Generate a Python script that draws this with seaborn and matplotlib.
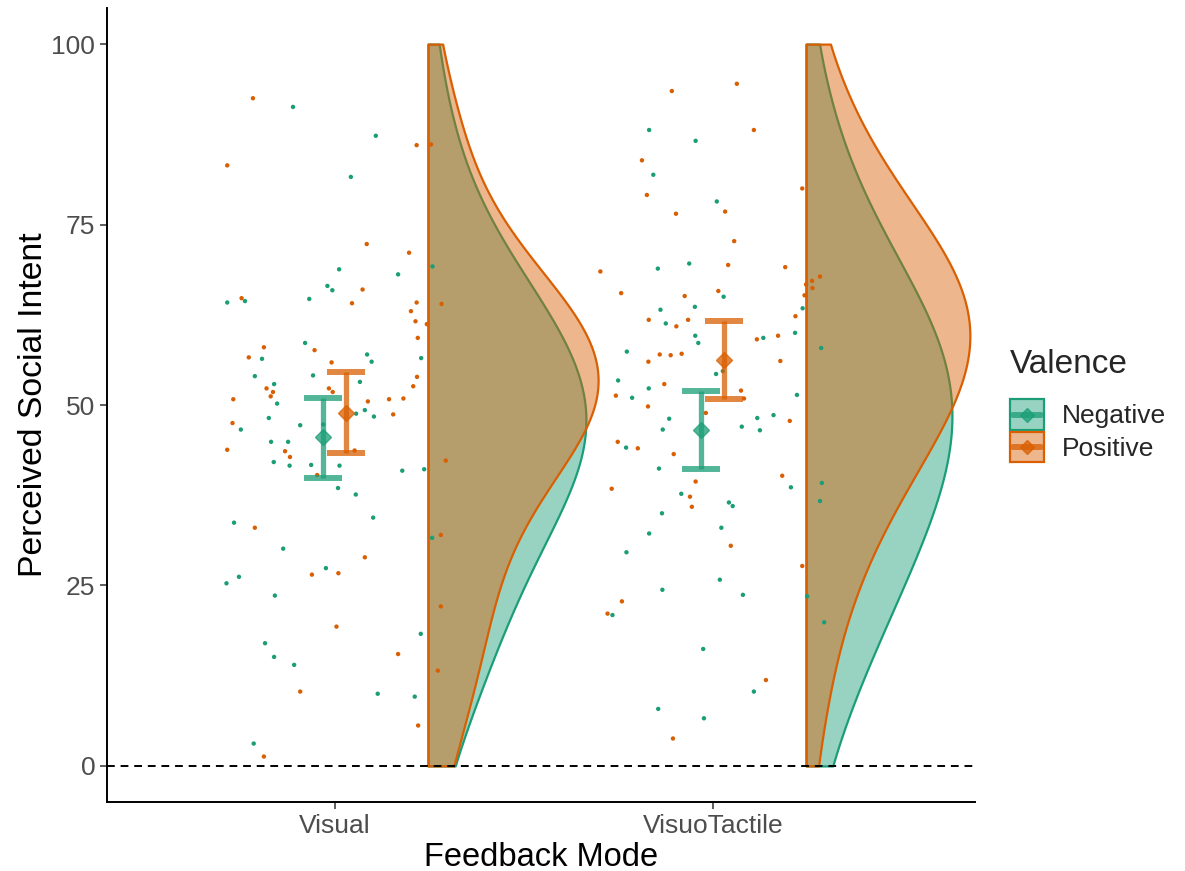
import numpy as np
import pandas as pd
import matplotlib
matplotlib.use("Agg")
import matplotlib.pyplot as plt
import seaborn as sns
from matplotlib.lines import Line2D
from matplotlib.patches import Rectangle
from matplotlib.legend_handler import HandlerBase
from matplotlib.colors import to_rgba

# ---------------- data ----------------
modes = ["Visual", "VisuoTactile"]
valences = ["Negative", "Positive"]
palette = {"Negative": "#1B9E77", "Positive": "#D95F02"}

visual_neg_y = [91.3, 87.3, 81.6, 69.2, 68.8, 68.1, 66.5, 65.9, 64.2, 64.4, 64.7, 58.6, 56.4, 57.0,
                56.0, 56.5, 54.0, 54.1, 53.2, 52.9, 50.2, 49.3, 48.8, 48.4, 48.2, 47.2, 46.6, 47.3,
                44.9, 44.9, 42.1, 41.6, 41.7, 41.6, 40.9, 41.1, 38.5, 37.6, 34.4, 33.7, 31.6, 30.1,
                27.4, 25.3, 26.2, 23.6, 18.3, 17.0, 15.1, 14.0, 10.0, 9.6, 3.1]
visual_neg_jit = [-0.111, 0.108, 0.042, 0.258, 0.011, 0.167, -0.020, -0.007, -0.285, -0.238, -0.068,
                  -0.079, -0.193, 0.085, 0.097, 0.228, -0.212, -0.058, 0.066, -0.161, -0.153, 0.079,
                  0.056, 0.103, -0.175, -0.092, -0.249, -0.031, -0.169, -0.124, -0.162, -0.120,
                  -0.063, 0.012, 0.178, 0.236, 0.008, 0.055, 0.101, -0.267, 0.257, -0.137, -0.024,
                  -0.287, -0.254, -0.159, 0.227, -0.185, -0.161, -0.108, 0.113, 0.211, -0.215]

visual_pos_y = [92.5, 83.2, 86.0, 86.1, 72.3, 71.1, 66.0, 64.8, 64.1, 64.2, 64.0, 63.0, 61.6, 61.2,
                59.3, 57.6, 58.0, 56.6, 55.9, 53.9, 52.3, 52.3, 51.8, 51.8, 52.6, 51.2, 50.8, 50.5,
                50.8, 50.9, 48.7, 47.5, 43.8, 43.6, 42.8, 43.7, 40.3, 42.3, 33.0, 32.0, 28.9, 26.5,
                26.7, 22.1, 19.3, 15.5, 13.2, 10.3, 5.6, 1.3]
visual_pos_jit = [-0.217, -0.285, 0.216, 0.254, 0.084, 0.196, 0.073, -0.247, 0.045, 0.216, 0.282,
                  0.201, 0.213, 0.243, 0.219, -0.054, -0.188, -0.228, -0.009, 0.217, -0.181, -0.016,
                  -0.164, -0.006, 0.207, -0.170, -0.269, 0.087, 0.143, 0.181, 0.154, -0.271, -0.285,
                  -0.132, -0.119, 0.052, -0.047, 0.293, -0.212, 0.280, 0.079, -0.061, 0.009, 0.280,
                  0.004, 0.167, 0.272, -0.092, 0.220, -0.188]

tactile_neg_y = [88.1, 86.6, 81.9, 78.2, 68.9, 69.6, 65.0, 63.6, 63.2, 63.4, 61.3, 59.6, 58.6, 59.3,
                 60.0, 57.9, 57.4, 54.3, 54.7, 53.4, 52.3, 51.0, 51.4, 48.1, 48.2, 48.6, 46.6, 47.0,
                 46.5, 44.1, 41.2, 38.6, 39.2, 36.7, 37.7, 36.5, 36.0, 35.0, 33.0, 32.2, 29.6, 24.4,
                 25.8, 23.7, 23.5, 20.9, 19.9, 16.2, 10.3, 7.9, 6.6]
tactile_neg_jit = [-0.169, -0.046, -0.158, 0.010, -0.146, -0.063, 0.028, -0.048, -0.139, 0.237,
                   -0.125, -0.047, -0.039, 0.133, 0.217, 0.286, -0.228, 0.008, 0.026, -0.251, -0.170,
                   -0.214, 0.222, -0.116, 0.117, 0.160, -0.133, 0.076, 0.124, -0.230, -0.143, 0.206,
                   0.288, 0.283, -0.084, 0.042, 0.052, -0.135, 0.022, -0.169, -0.229, -0.134, 0.018,
                   0.079, 0.249, -0.266, 0.294, -0.026, 0.108, -0.145, -0.024]

tactile_pos_y = [93.5, 94.5, 88.1, 83.9, 79.1, 80.0, 76.8, 76.5, 72.7, 68.5, 69.4, 69.1, 67.8, 67.2,
                 66.7, 66.2, 65.5, 65.1, 65.8, 65.2, 62.3, 61.8, 61.8, 60.9, 59.1, 59.6, 56.0, 57.0,
                 56.9, 57.1, 56.1, 52.9, 51.3, 49.8, 52.0, 50.9, 48.9, 47.8, 44.9, 44.0, 43.2, 39.4,
                 40.2, 38.4, 37.3, 35.9, 30.5, 27.7, 22.8, 21.1, 11.9, 3.8]
tactile_pos_jit = [-0.109, 0.063, 0.108, -0.188, -0.175, 0.236, 0.032, -0.098, 0.056, -0.298, 0.040,
                   0.191, 0.283, 0.262, 0.246, 0.263, -0.243, -0.075, 0.014, 0.242, 0.218, -0.170,
                   -0.066, -0.097, 0.116, 0.172, -0.171, -0.141, -0.112, -0.083, 0.178, -0.129,
                   -0.257, -0.172, 0.074, 0.082, -0.019, 0.203, -0.252, -0.199, -0.104, -0.046,
                   0.183, -0.268, -0.061, -0.056, 0.047, 0.236, -0.241, -0.279, 0.140, -0.106]

# summary (mean and 95% CI bounds) per mode x valence
sum_mode = ["Visual", "Visual", "VisuoTactile", "VisuoTactile"]
sum_val = ["Negative", "Positive", "Negative", "Positive"]
sum_mean = [45.5, 48.9, 46.5, 56.3]
sum_low = [39.9, 43.3, 41.1, 50.9]
sum_high = [51.0, 54.6, 51.9, 61.6]

yticks = [0, 25, 50, 75, 100]

# ---------------- build frames ----------------
groups = [("Visual", "Negative", visual_neg_y, visual_neg_jit),
          ("Visual", "Positive", visual_pos_y, visual_pos_jit),
          ("VisuoTactile", "Negative", tactile_neg_y, tactile_neg_jit),
          ("VisuoTactile", "Positive", tactile_pos_y, tactile_pos_jit)]
rows = []
for m, v, ys, js in groups:
    for y, j in zip(ys, js):
        rows.append({"mode": m, "valence": v, "score": y, "xpos": modes.index(m) + j})
df = pd.DataFrame(rows)

summ = pd.DataFrame({"mode": sum_mode, "valence": sum_val, "mean": sum_mean,
                     "low": sum_low, "high": sum_high})

# ---------------- style ----------------
sns.set_theme(style="ticks")
plt.rcParams["font.family"] = ["Liberation Sans", "DejaVu Sans"]

fig = plt.figure(figsize=(11.85, 8.71), dpi=100)
ax = fig.add_axes([0.0903, 0.0792, 0.7325, 0.9116])

# ---------------- half violins ----------------
grid = np.linspace(0, 100, 400)


def kde(vals, g, bw):
    v = np.asarray(vals)[:, None]
    return np.exp(-0.5 * ((g[None, :] - v) / bw) ** 2).sum(0) / (len(vals) * bw * np.sqrt(2 * np.pi))


def nrd0(vals):
    v = np.asarray(vals)
    iqr = np.subtract(*np.percentile(v, [75, 25]))
    s = min(np.std(v, ddof=1), iqr / 1.34)
    return 0.9 * s * len(v) ** (-0.2)


adjust = 1.9
dens = {}
for m, v, ys, js in groups:
    dens[(m, v)] = kde(ys, grid, nrd0(ys) * adjust)
gmax = max(d.max() for d in dens.values())

for m, v, ys, js in groups:
    i = modes.index(m)
    x0 = i + 0.246
    w = dens[(m, v)] / gmax * 0.45
    c = palette[v]
    ax.fill_betweenx(grid, x0, x0 + w, facecolor=to_rgba(c, 0.45), edgecolor=c,
                     linewidth=1.6, zorder=1)

# reference line
ax.axhline(0, color="black", linestyle=(0, (4, 3)), linewidth=1.4, zorder=2)

# ---------------- jittered points ----------------
sns.scatterplot(data=df, x="xpos", y="score", hue="valence", palette=palette,
                s=10, linewidth=0, legend=False, ax=ax, zorder=3)

# ---------------- mean + CI ----------------
dodge = {"Negative": -0.032, "Positive": 0.028}
for _, r in summ.iterrows():
    c = palette[r["valence"]]
    x = modes.index(r["mode"]) + dodge[r["valence"]]
    ax.errorbar([x], [r["mean"]], yerr=[[r["mean"] - r["low"]], [r["high"] - r["mean"]]],
                fmt="D", color=c, ecolor=c, alpha=0.75, elinewidth=3.8, capsize=13.5,
                capthick=4.3, markersize=8, zorder=4)

# ---------------- axes ----------------
ax.set_xlim(-0.603, 1.693)
ax.set_ylim(-5, 105)
ax.set_xticks(range(len(modes)))
ax.set_xticklabels(modes)
ax.set_yticks(yticks)
ax.set_yticklabels([str(t) for t in yticks])
ax.tick_params(axis="both", labelsize=19, colors="#333333", labelcolor="#4D4D4D",
               length=5, width=1.1)
ax.set_xlabel("Feedback Mode", fontsize=23.5, color="black", labelpad=3)
ax.set_ylabel("Perceived Social Intent", fontsize=24.3, color="black", labelpad=1.5)
for s in ["top", "right"]:
    ax.spines[s].set_visible(False)
for s in ["left", "bottom"]:
    ax.spines[s].set_color("black")
    ax.spines[s].set_linewidth(1.4)
ax.grid(False)


# ---------------- legend ----------------
class KeyHandler(HandlerBase):
    def create_artists(self, legend, orig_handle, xdescent, ydescent, width, height,
                       fontsize, trans):
        c = orig_handle.get_color()
        x0, y0 = -xdescent, -ydescent
        rect = Rectangle((x0, y0), width, height, facecolor=to_rgba(c, 0.45),
                         edgecolor=c, linewidth=1.6, transform=trans)
        cy = y0 + height / 2
        line = Line2D([x0 + 0.1 * width, x0 + 0.9 * width], [cy, cy], color=c, alpha=0.75,
                      linewidth=4.3, transform=trans)
        mk = Line2D([x0 + width / 2], [cy], marker="D", markersize=7.5, color=c, alpha=0.75,
                    linewidth=0, transform=trans)
        return [rect, line, mk]


handles = [Line2D([], [], color=palette[v]) for v in valences]
leg = fig.legend(handles, valences, title="Valence", loc="upper left",
                 bbox_to_anchor=(1010 / 1185, 1 - 349 / 871), frameon=False, fontsize=19,
                 title_fontsize=24, handlelength=1.3, handleheight=1.38,
                 handletextpad=0.65, labelspacing=0.1, borderpad=0, borderaxespad=0,
                 handler_map={Line2D: KeyHandler()})
leg._legend_box.align = "left"
leg._legend_box.sep = 14

fig.savefig("out.png", dpi=100)
